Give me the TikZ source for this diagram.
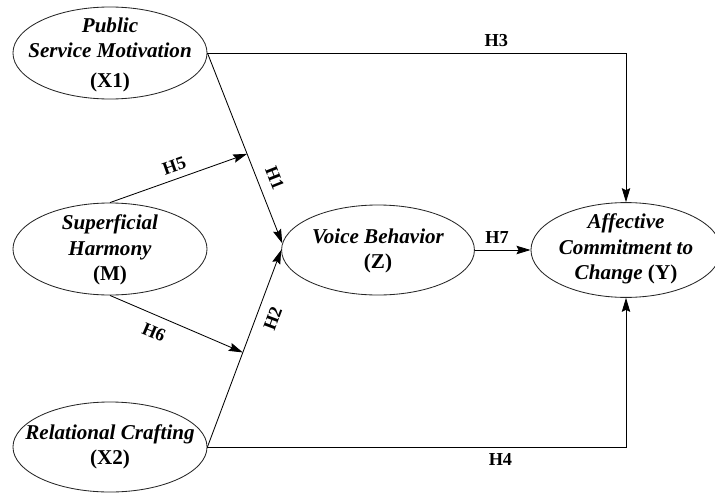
\documentclass[tikz,border=0pt]{standalone}
\usepackage{fontspec}
\setmainfont{Liberation Serif}
\usetikzlibrary{shapes.geometric, arrows.meta, calc}

\begin{document}
\begin{tikzpicture}[x=0.025cm, y=-0.025cm, line width=0.6pt,
    var/.style={draw, black!85, ellipse, inner sep=0pt, minimum width=4.85cm, minimum height=2.3cm},
    vartext/.style={font=\fontsize{15}{18}\selectfont\bfseries\itshape, align=center, inner sep=0pt},
    hyp/.style={font=\fontsize{13}{15}\selectfont\bfseries, inner sep=4.5pt},
    arr/.style={-{Stealth[length=10pt, width=6pt, inset=1.5pt]}}]

    \useasboundingbox (0,0) rectangle (715,493);

    \node (x1) [var] at (110,53) {};
    \node (m) [var] at (110,249) {};
    \node (x2) [var, minimum height=2.25cm] at (110,447) {};
    \node (z) [var, minimum width=4.82cm, minimum height=2.25cm] at (378,250) {};
    \node (y) [var, minimum width=4.75cm, minimum height=2.37cm] at (626,250) {};

    \node (x1t) [vartext] at (110,55) {Public\\Service Motivation\\[3pt]\textup{(X1)}};
    \node (mt) [vartext] at (110,250) {Superficial\\Harmony\\\textup{(M)}};
    \node (x2t) [vartext] at (110,447) {Relational Crafting\\\textup{(X2)}};
    \node (zt) [vartext] at (378,251) {Voice Behavior\\\textup{(Z)}};
    \node (yt) [vartext] at (626,249) {Affective\\Commitment to\\Change \textup{(Y)}};

    \coordinate (h5) at ($(x1.east)!.53!(z.176)$);
    \coordinate (h6) at ($(x2.east)!.48!(z.west)$);

    \draw[arr] (x1.east) -- node[hyp, above, pos=.69] {H3} (x1.east -| y.north) -- (y.north);
    \draw[arr] (x2.east) -- node[hyp, below, pos=.70] {H4} (x2.east -| y.south) -- (y.south);
    \draw[arr] (x1.east) -- node[hyp, sloped, above, pos=.69, inner sep=7.5pt] {H1} (z.176);
    \draw[arr] (x2.east) -- node[hyp, sloped, below, pos=.68, inner sep=7pt] {H2} (z.west);
    \draw[arr] (m.north) -- node[hyp, sloped, above, pos=.5] {H5} (h5);
    \draw[arr] (m.south) -- node[hyp, sloped, below, pos=.38, inner sep=7pt] {H6} (h6);
    \draw[arr] (z.east) -- node[hyp, above, pos=.4] {H7} (y.west);

\end{tikzpicture}
\end{document}
